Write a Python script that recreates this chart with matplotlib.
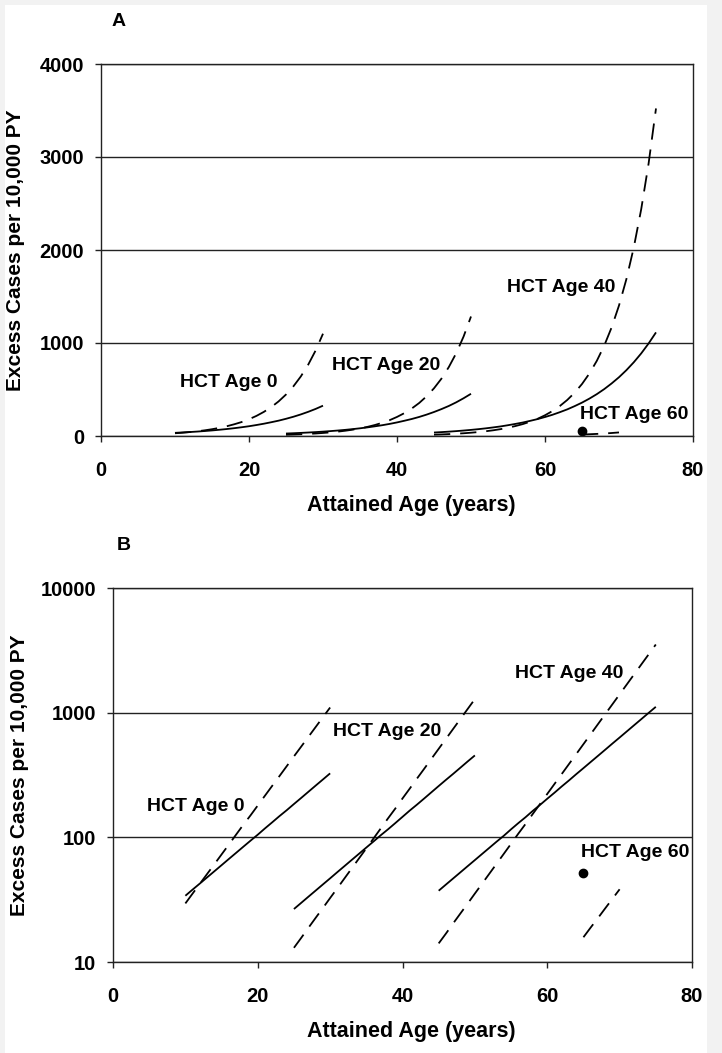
import matplotlib
matplotlib.use('Agg')
import matplotlib.pyplot as plt
from matplotlib.patches import Rectangle
from matplotlib.ticker import FixedLocator, NullLocator

# Excess cases per 10,000 PY (solid / dashed curves)
age_hct0 = list(range(10, 31))
solid_hct0 = [34, 38.1, 42.6, 47.7, 53.4, 59.8, 67.0, 75.0, 84.0, 94.0, 105,
              118, 132, 148, 165, 185, 207, 232, 260, 291, 326]
dash_hct0 = [29.5, 35.4, 42.4, 50.8, 60.8, 72.9, 87.4, 105, 126, 150, 180,
             216, 259, 310, 372, 446, 534, 640, 767, 919, 1100]

age_hct20 = list(range(25, 51))
solid_hct20 = [26.6, 29.8, 33.4, 37.4, 41.9, 46.9, 52.6, 58.9, 66.0, 73.9, 82.8,
               92.7, 104, 116, 130, 146, 164, 183, 205, 230, 258, 289, 323, 362,
               406, 454]
dash_hct20 = [13.0, 15.6, 18.8, 22.6, 27.1, 32.6, 39.1, 47.0, 56.5, 67.9, 81.6,
              98.0, 118, 142, 170, 205, 246, 296, 355, 427, 513, 616, 741, 890,
              1070, 1285]

age_hct40 = list(range(45, 76))
solid_hct40 = [37.3, 41.8, 46.8, 52.4, 58.7, 65.7, 73.6, 82.4, 92.3, 103, 116,
               130, 145, 163, 182, 204, 228, 256, 286, 321, 359, 402, 450, 504,
               565, 632, 708, 793, 888, 995, 1114]
dash_hct40 = [14.1, 16.9, 20.4, 24.5, 29.4, 35.4, 42.5, 51.1, 61.4, 73.8, 88.8,
              107, 128, 154, 185, 223, 268, 322, 387, 465, 559, 672, 808, 971,
              1167, 1403, 1687, 2028, 2438, 2930, 3522]

age_hct60 = list(range(65, 71))
dash_hct60 = [15.8, 18.9, 22.5, 26.9, 32.1, 38.3]
point_age60 = [65]
point_val60 = [52]

labels = ['HCT Age 0', 'HCT Age 20', 'HCT Age 40', 'HCT Age 60']
lab_x_a = [17.2, 38.5, 62.2, 72.0]
lab_y_a = [570, 760, 1600, 230]
lab_x_b = [11.4, 37.9, 63.0, 72.1]
lab_y_b = [178, 700, 2060, 75]

plt.rcParams['font.family'] = ['Liberation Sans', 'DejaVu Sans']
plt.rcParams['font.weight'] = 'bold'

W, H = 722, 1053
fig = plt.figure(figsize=(W / 100, H / 100), dpi=100, facecolor='#f2f2f2')
# white page with a thin grey margin, like the scanned original
fig.patches.append(Rectangle((5 / W, 0), 702 / W, 1 - 5 / H,
                             transform=fig.transFigure, facecolor='white',
                             edgecolor='none', zorder=-10))

ink = '#222222'


def draw_panel(ax, logscale, lab_x, lab_y, left_px, ylab_px, xlab_px):
    series = [(age_hct0, solid_hct0, dash_hct0),
              (age_hct20, solid_hct20, dash_hct20),
              (age_hct40, solid_hct40, dash_hct40)]
    for ages, s, d in series:
        ax.plot(ages, s, color='black', lw=1.3, solid_capstyle='butt')
        ax.plot(ages, d, color='black', lw=1.3, dashes=(9, 5.5))
    ax.plot(age_hct60, dash_hct60, color='black', lw=1.3, dashes=(9, 5.5))
    ax.plot(point_age60, point_val60, 'o', color='black', ms=6)

    for t, x, y in zip(labels, lab_x, lab_y):
        ax.text(x, y, t, ha='center', va='center', fontsize=14,
                fontweight='bold')

    ax.set_xlim(0, 80)
    ax.set_xticks([0, 20, 40, 60, 80])
    if logscale:
        ax.set_yscale('log')
        ax.set_ylim(10, 10000)
        ax.yaxis.set_major_locator(FixedLocator([10, 100, 1000, 10000]))
        ax.yaxis.set_minor_locator(NullLocator())
        ax.set_yticklabels(['10', '100', '1000', '10000'])
    else:
        ax.set_ylim(0, 4000)
        ax.set_yticks([0, 1000, 2000, 3000, 4000])

    ax.yaxis.grid(True, color=ink, lw=1.0)
    ax.set_axisbelow(True)
    for sp in ax.spines.values():
        sp.set_color(ink)
        sp.set_linewidth(1.0)
    ax.tick_params(axis='both', direction='out', length=4.3, width=1.0,
                   color=ink, labelsize=14.5)
    ax.tick_params(axis='x', pad=14)
    ax.tick_params(axis='y', pad=8)
    for lbl in ax.get_xticklabels() + ax.get_yticklabels():
        lbl.set_fontweight('bold')

    ax.set_xlabel('Attained Age (years)', fontsize=15.5, fontweight='bold')
    ax.set_ylabel('Excess Cases per 10,000 PY', fontsize=15, fontweight='bold')
    pos = ax.get_position()
    ax_w = pos.width * W
    ax_h = pos.height * H
    ax.yaxis.set_label_coords((ylab_px - left_px) / ax_w, 0.5)
    ax.yaxis.label.set_va('center')
    ax.xaxis.set_label_coords((411 - left_px) / ax_w, -xlab_px / ax_h)
    ax.xaxis.label.set_va('center')


# panel A (linear)
axA = fig.add_axes([101 / W, 1 - 436 / H, 592 / W, 372 / H])
draw_panel(axA, False, lab_x_a, lab_y_a, 101, 16, 69)
fig.text(119 / W, 1 - 22 / H, 'A', ha='center', va='center', fontsize=14,
         fontweight='bold')

# panel B (log)
axB = fig.add_axes([113 / W, 1 - 962 / H, 579 / W, 374 / H])
draw_panel(axB, True, lab_x_b, lab_y_b, 113, 20, 70)
fig.text(124 / W, 1 - 545 / H, 'B', ha='center', va='center', fontsize=14,
         fontweight='bold')

fig.savefig('out.png', dpi=100, facecolor=fig.get_facecolor())
